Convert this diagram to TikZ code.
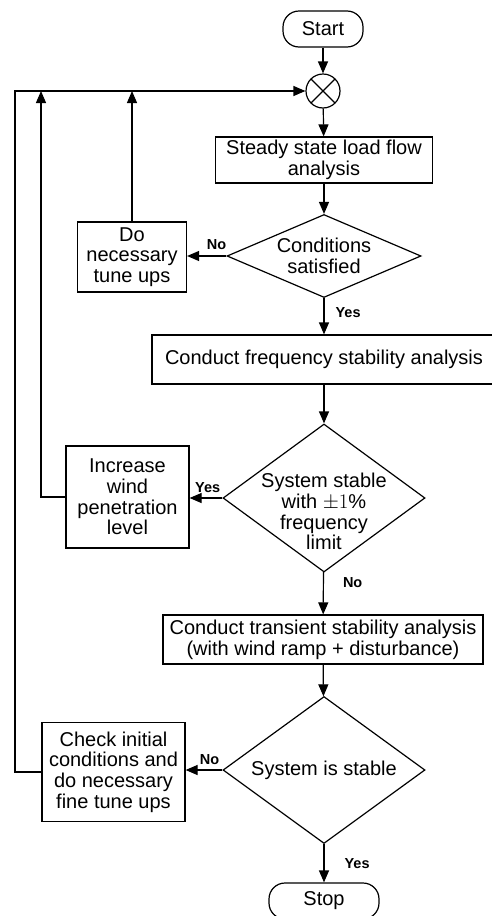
\documentclass[tikz,border=0pt]{standalone}
\usepackage{fontspec}
\setmainfont{Liberation Sans}
\usetikzlibrary{positioning}
\usetikzlibrary{shapes.geometric}
\usetikzlibrary{arrows.meta}

\begin{document}
\begin{tikzpicture}
 [ x=1pt, y=1pt
 , font=\fontsize{20}{20.7}\selectfont
 , every node/.style={line width=1.2pt, align=center, inner sep=0pt}
 , terminal/.style={draw, rectangle, rounded corners=16pt, minimum height=36}
 , process/.style={draw, rectangle}
 , decision/.style={draw, diamond, aspect=1.365, minimum width=202, minimum height=148}
 , junction/.style={draw, circle, minimum size=34,
     path picture={\draw[line width=1.2pt]
       (path picture bounding box.north west) -- (path picture bounding box.south east)
       (path picture bounding box.north east) -- (path picture bounding box.south west);}}
 , flow/.style={line width=1.2pt, -{Triangle[length=12pt, width=10pt]}}
 , answer/.style={font=\fontsize{14.5}{16}\bfseries\selectfont}
 ]
  \useasboundingbox (0,0) rectangle (492,-916);

  \node [terminal, minimum width=80] (start) at (323,-29) {Start};
  \node [junction] (sum) at (323,-91) {};
  \node [process, minimum width=217, minimum height=46] (loadflow) at (324,-160) {Steady state load flow\\analysis};
  \node [decision, aspect=2.33, inner sep=-1pt, minimum width=194, minimum height=83] (cond) at (324,-256) {Conditions\\satisfied};
  \node [process, minimum width=109, minimum height=70] (tune) at (132,-257) {Do\\necessary\\tune ups};
  \node [process, minimum width=344, minimum height=49] (freq) at (324,-359.5) {Conduct frequency stability analysis};
  % the text sits a little low in this one
  \node [decision, inner sep=-16pt] (stable) at (324,-498) {\rule{0pt}{42pt}System stable\\with $\pm1\%$\\frequency\\limit};
  \node [process, minimum width=123, minimum height=102] (wind) at (127.5,-497) {Increase\\wind\\penetration\\level};
  \node [process, minimum width=320, minimum height=49] (transient) at (323,-639.5) {Conduct transient stability analysis\\(with wind ramp + disturbance)};
  \node [decision, minimum height=147] (final) at (324,-770) {System is stable};
  \node [process, minimum width=143, minimum height=99] (check) at (113.5,-772) {Check initial\\conditions and\\do necessary\\fine tune ups};
  \node [terminal, minimum width=110] (stop) at (324,-901) {Stop};

  % feedback corners
  \coordinate (outer) at (15,-91);
  \coordinate (middle) at (41,-91);

  \draw [flow] (start) -- (sum);
  \draw [flow] (sum) -- (loadflow);
  \draw [flow] (loadflow) -- (cond);
  \draw [flow] (cond) -- node [answer, right=11pt, pos=0.4] {Yes} (freq);
  \draw [flow] (cond.west) -- node [answer, above=6pt, pos=0.25] {No} (cond.west -| tune.east);
  \draw [flow] (freq) -- (stable);
  \draw [flow] (stable.west) -- node [answer, above=5pt, pos=0.45] {Yes} (stable.west -| wind.east);
  \draw [flow] (stable) -- node [answer, right=19pt, pos=0.25] {No} (transient);
  \draw [flow] (transient) -- (final);
  \draw [flow] (final.west) -- node [answer, above=5pt, pos=0.35] {No} (final.west -| check.east);
  \draw [flow] (final) -- node [answer, right=20pt, pos=0.5] {Yes} (stop);
  \draw [flow] (check.west) -| (outer) -- (sum.west);
  \draw [flow] (wind.west) -| (middle);
  \draw [flow] (tune.north) -- (tune.north |- sum.west);
\end{tikzpicture}
\end{document}
